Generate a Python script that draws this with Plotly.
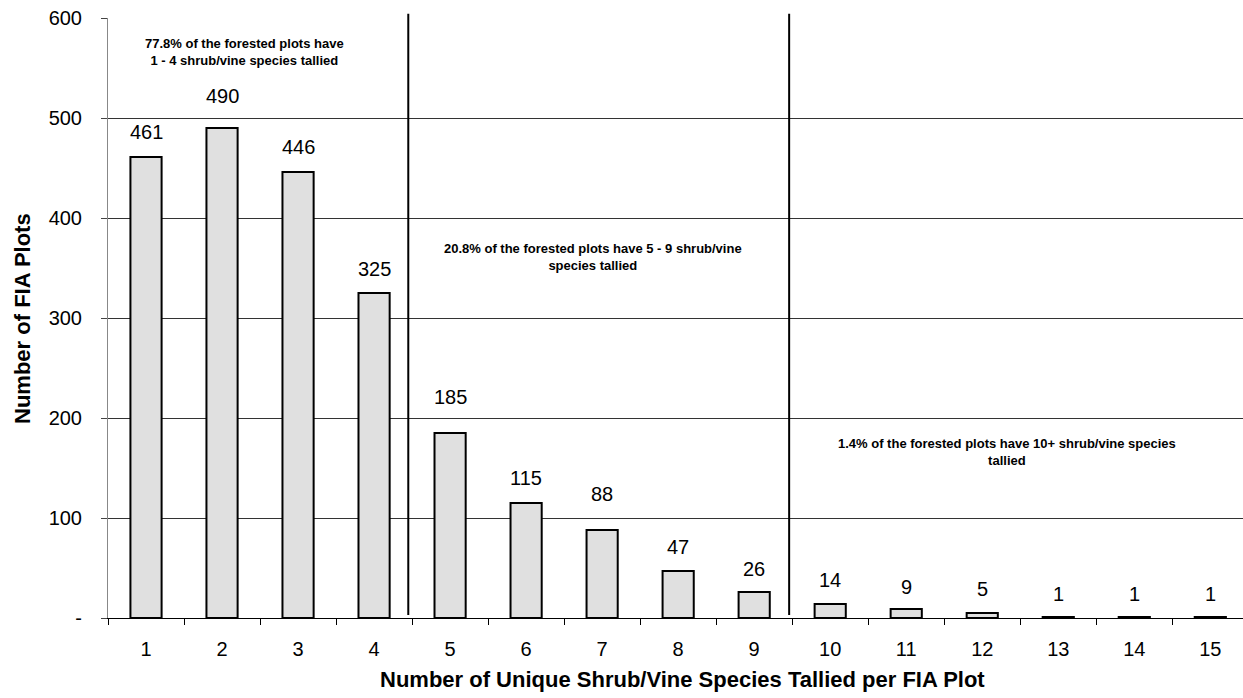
import plotly.graph_objects as go

# Plot counts by number of shrub/vine species tallied
species_counts = ["1", "2", "3", "4", "5", "6", "7", "8", "9", "10", "11", "12", "13", "14", "15"]
plot_counts = [461, 490, 446, 325, 185, 115, 88, 47, 26, 14, 9, 5, 1, 1, 1]

y_tick_values = [0, 100, 200, 300, 400, 500, 600]
y_tick_labels = ["-", "100", "200", "300", "400", "500", "600"]

# Group notes (text, x position in category index, y value)
group_notes = [
    ("77.8% of the forested plots have<br>1 - 4 shrub/vine species tallied", 1.30, 566),
    ("20.8% of the forested plots have 5 - 9 shrub/vine<br>species tallied", 5.88, 361),
    ("1.4% of the forested plots have 10+ shrub/vine species<br>tallied", 11.33, 166),
]
# Separators between the 1-4, 5-9 and 10+ groups (category index)
group_breaks = [3.45, 8.46]

# Vertical offset of each value label above its bar (pixels)
label_lift_px = [25, 32, 25, 24, 36, 25, 36, 24, 23, 24, 22, 24, 23, 23, 23]

FONT = "Arial, Liberation Sans, sans-serif"

fig = go.Figure()
fig.add_trace(go.Bar(
    x=species_counts,
    y=plot_counts,
    width=0.41,
    marker=dict(color="#e0e0e0", line=dict(color="black", width=2)),
    hoverinfo="x+y",
))

annotations = []
for idx, (val, lift) in enumerate(zip(plot_counts, label_lift_px)):
    annotations.append(dict(
        x=idx, y=val, xref="x", yref="y", text=str(val), showarrow=False,
        yanchor="middle", yshift=lift, font=dict(family=FONT, size=20, color="black"),
    ))
for text, nx, ny in group_notes:
    annotations.append(dict(
        x=nx, y=ny, xref="x", yref="y", text=f"<b>{text}</b>", showarrow=False,
        align="center", xanchor="center", yanchor="middle",
        font=dict(family=FONT, size=13, color="black"),
    ))
annotations.append(dict(
    x=0.506, y=-0.103, xref="paper", yref="paper", showarrow=False,
    text="<b>Number of Unique Shrub/Vine Species Tallied per FIA Plot</b>",
    xanchor="center", yanchor="middle", font=dict(family=FONT, size=22, color="black"),
))
annotations.append(dict(
    x=-0.0758, y=0.5, xref="paper", yref="paper", showarrow=False, textangle=-90,
    text="<b>Number of FIA Plots</b>",
    xanchor="center", yanchor="middle", font=dict(family=FONT, size=22, color="black"),
))

shapes = []
for xb in group_breaks:
    shapes.append(dict(
        type="line", xref="x", yref="paper", x0=xb, x1=xb, y0=0.005, y1=1.007,
        line=dict(color="black", width=2), layer="above",
    ))

fig.update_layout(
    width=1243, height=698,
    margin=dict(l=108, r=0, t=18, b=80),
    paper_bgcolor="white", plot_bgcolor="white",
    showlegend=False,
    font=dict(family=FONT, color="black"),
    annotations=annotations,
    shapes=shapes,
    bargap=0.59,
)
fig.update_xaxes(
    type="category", range=[-0.5, 14.43],
    tickson="boundaries", ticks="outside", ticklen=6, tickcolor="black", tickwidth=1,
    showline=True, linecolor="black", linewidth=1,
    showgrid=False, tickfont=dict(family=FONT, size=20, color="black"),
    ticklabelstandoff=13,
)
fig.update_yaxes(
    range=[0, 600], tickvals=y_tick_values, ticktext=y_tick_labels,
    ticks="outside", ticklen=6, tickcolor="#444", tickwidth=1,
    showline=True, linecolor="#888", linewidth=1,
    showgrid=True, gridcolor="#333", gridwidth=1, zeroline=False,
    tickfont=dict(family=FONT, size=20, color="black"),
    ticklabelstandoff=15,
)

fig.write_html("out.html")
